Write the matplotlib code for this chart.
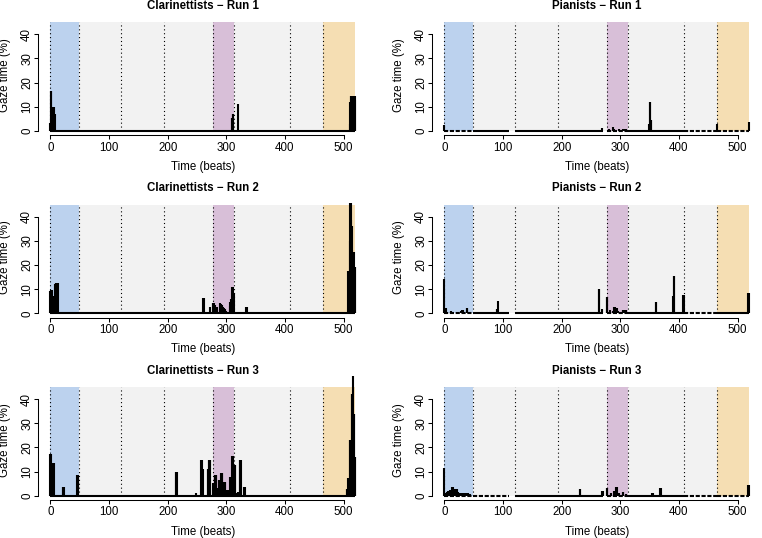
import matplotlib
matplotlib.use("Agg")
import matplotlib.pyplot as plt

plt.rcParams['font.family'] = ['Liberation Sans', 'DejaVu Sans']

# ---------------- data ----------------
section_bounds = [0, 49, 121, 193, 277, 313, 409, 465, 520]
shade_top = 45
highlight_sections = [(0, 49), (277, 313), (465, 520)]

titles = ["Clarinettists \u2212 Run 1", "Pianists \u2212 Run 1",
          "Clarinettists \u2212 Run 2", "Pianists \u2212 Run 2",
          "Clarinettists \u2212 Run 3", "Pianists \u2212 Run 3"]

x_ticks = [0, 100, 200, 300, 400, 500]
y_ticks = [0, 10, 20, 30, 40]
x_label = "Time (beats)"
y_label = "Gaze time (%)"

# Clarinettists run 1
cl1_beats = [0, 1, 2, 3, 4, 5, 6, 7, 8,
             309, 310, 311, 312, 320,
             510, 511, 512, 513, 514, 515, 516, 517, 518, 519, 520]
cl1_vals = [3.4, 16.5, 16.5, 4.5, 9.8, 9.8, 9.8, 7.0, 7.0,
            5.5, 5.5, 7.0, 7.0, 11.2,
            3.0, 12.0, 14.5, 14.5, 14.5, 14.5, 14.5, 14.5, 14.5, 14.5, 13.0]

# Clarinettists run 2
cl2_beats = [0, 1, 2, 3, 7, 8, 9, 10, 11, 12, 13,
             261, 262, 273, 277, 278, 279, 280, 284, 290, 291, 292, 293, 294,
             295, 296, 297, 298, 300, 306, 307, 308, 309, 310, 311, 312, 313,
             327, 334, 335,
             508, 509, 510, 511, 512, 513, 514, 515, 516, 517, 518, 519, 520]
cl2_vals = [9.3, 9.5, 9.8, 9.8, 7.2, 12.2, 12.4, 12.6, 12.6, 12.6, 12.6,
            6.2, 6.2, 2.6, 4.3, 4.3, 4.3, 3.5, 2.6, 4.3, 3.8, 3.4, 3.0, 2.5,
            2.2, 2.0, 1.8, 1.5, 1.0, 3.0, 4.5, 5.9, 5.9, 10.8, 10.8, 8.3, 8.3,
            0.4, 2.6, 2.6,
            17.6, 17.6, 30.0, 45.8, 45.8, 38.6, 36.0, 26.0, 25.5, 25.5, 19.0, 19.0, 19.0]

# Clarinettists run 3
cl3_beats = [0, 1, 2, 3, 4, 5, 6, 21, 22, 23, 31, 46, 47, 48,
             214, 215, 216, 248, 257, 258, 259, 260, 268, 269, 270, 271, 272, 273,
             278, 279, 280, 281, 282, 283, 284, 285, 286, 287, 288, 289, 290,
             291, 292, 293, 294, 295, 296, 297, 298, 299, 300, 301, 302, 303,
             305, 306, 307, 308, 309, 310, 311, 312, 313, 314, 315, 316, 317, 318,
             320, 323, 324, 325, 330, 331,
             505, 506, 507, 508, 509, 510, 511, 512, 513, 514, 515, 516, 517, 518, 519, 520]
cl3_vals = [17.2, 17.2, 7.9, 7.9, 13.7, 13.7, 13.7, 3.6, 3.6, 3.6, 0.4, 8.6, 8.6, 8.6,
            9.8, 9.8, 9.8, 1.0, 14.8, 14.8, 10.9, 10.9, 10.9, 10.9, 14.8, 14.8, 14.8, 14.8,
            5.1, 5.1, 5.1, 8.6, 8.6, 8.6, 3.0, 3.0, 3.0, 6.5, 6.5, 6.5, 6.5,
            9.2, 9.2, 9.2, 5.8, 5.8, 5.8, 5.8, 5.8, 2.3, 2.3, 2.3, 2.3, 2.3,
            1.4, 1.4, 7.9, 7.9, 7.9, 16.4, 16.4, 16.4, 12.7, 12.7, 12.7, 1.0, 1.0, 1.0,
            1.6, 14.8, 14.8, 14.8, 3.7, 3.7,
            2.8, 2.8, 2.8, 7.2, 7.2, 23.0, 23.0, 23.0, 23.0, 42.0, 42.0, 49.5, 34.0, 34.0, 16.0, 16.0]

# Pianists run 1
pi1_beats = [0, 269, 280, 287, 290, 298, 304, 307, 310,
             349, 350, 351, 352, 353, 465, 519]
pi1_vals = [2.5, 1.1, 0.8, 1.8, 1.0, 0.7, 1.0, 1.0, 1.0,
            3.0, 12.1, 12.1, 4.5, 4.5, 2.8, 3.7]

# Pianists run 2
pi2_beats = [0, 1, 2, 3, 12, 28, 30, 32, 38, 39, 89, 90, 92,
             263, 264, 269, 277, 278, 282, 287, 290, 291, 294, 296,
             304, 305, 306, 307, 308, 309, 360, 361, 390, 391, 392, 407, 408, 518, 519]
pi2_vals = [14.2, 2.2, 2.2, 2.2, 1.0, 1.0, 1.2, 1.2, 2.0, 2.0, 1.8, 1.8, 5.2,
            10.1, 10.1, 1.9, 6.8, 6.8, 1.5, 1.0, 2.5, 2.5, 2.2, 1.0,
            1.5, 1.5, 1.5, 1.5, 1.5, 1.5, 4.5, 4.5, 7.3, 15.3, 15.3, 7.6, 7.6, 8.2, 8.2]

# Pianists run 3
pi3_beats = [0, 2, 4, 7, 10, 13, 14, 18, 19, 21, 24, 27, 29, 32, 35, 38, 40, 43,
             231, 232, 269, 270, 277, 278, 284, 289, 293, 294, 298, 304, 305, 310,
             354, 355, 368, 369, 518, 519]
pi3_vals = [11.3, 1.0, 1.5, 2.0, 2.3, 3.7, 3.7, 2.6, 2.6, 2.6, 1.6, 1.2, 1.2, 1.2, 1.0, 1.0, 1.0, 0.7,
            2.6, 2.6, 2.0, 2.0, 3.2, 3.2, 1.2, 1.9, 3.7, 3.7, 1.0, 1.6, 1.6, 0.8,
            1.1, 1.1, 3.3, 3.3, 4.3, 4.3]

# ranges of beats with recorded data (dense / sparse sampling)
cl_dense = [(0, 520)]
cl_sparse = []
pi1_dense = [(49, 110), (121, 270), (313, 409)]
pi1_sparse = [(0, 49), (277, 313), (409, 465), (465, 520)]
pi2_dense = [(49, 110), (121, 270), (313, 409), (465, 520)]
pi2_sparse = [(0, 49), (277, 313), (409, 465)]
pi3_dense = [(121, 270), (313, 409)]
pi3_sparse = [(0, 49), (49, 110), (277, 313), (409, 465), (465, 520)]

panels = [
    (cl1_beats, cl1_vals, cl_dense, cl_sparse),
    (pi1_beats, pi1_vals, pi1_dense, pi1_sparse),
    (cl2_beats, cl2_vals, cl_dense, cl_sparse),
    (pi2_beats, pi2_vals, pi2_dense, pi2_sparse),
    (cl3_beats, cl3_vals, cl_dense, cl_sparse),
    (pi3_beats, pi3_vals, pi3_dense, pi3_sparse),
]

# ---------------- style / layout ----------------
W, H, DPI = 762, 538, 100
FS = 8.3
highlight_colors = ["#BCD2EE", "#D8BFD8", "#F5DEB3"]
gray = "#F2F2F2"

col_x = [(38.1, 367.6), (432.1, 761.6)]
row_zero = [131.0, 313.3, 495.7]
YPX = 2.417  # pixels per % unit
XLIM = (-20.8, 540.8)
YLIM = (-1.8, 46.8)

fig = plt.figure(figsize=(W / DPI, H / DPI), dpi=DPI)


def fx(px):
    return px / W


def fy(py):
    return 1 - py / H


for i, (beats, vals, dense, sparse) in enumerate(panels):
    r, c = divmod(i, 2)
    x0, x1 = col_x[c]
    z = row_zero[r]
    ytop = z - YLIM[1] * YPX
    ybot = z - YLIM[0] * YPX
    ax = fig.add_axes([fx(x0), fy(ybot), fx(x1 - x0), (ybot - ytop) / H])
    ax.set_xlim(*XLIM)
    ax.set_ylim(*YLIM)
    ax.patch.set_visible(False)

    # background sections
    ax.fill_between([section_bounds[0], section_bounds[-1]], 0, shade_top,
                    color=gray, lw=0, zorder=0)
    for (a, b), col in zip(highlight_sections, highlight_colors):
        ax.fill_between([a, b], 0, shade_top, color=col, lw=0, zorder=0.5)
    ax.vlines(section_bounds[:-1], 0, shade_top, colors="black",
              linestyles=(0, (1, 2.5)), lw=0.8, zorder=1)

    # baseline where data exist
    for a, b in dense:
        ax.hlines(0, a, b, colors="black", lw=1.5, zorder=2)
    for a, b in sparse:
        ax.hlines(0, a, b, colors="black", lw=1.5,
                  linestyles=(0, (2.0, 0.8)), zorder=2)

    # gaze spikes
    ax.vlines(beats, 0, vals, colors="black", lw=1.5, zorder=3, clip_on=False)

    # axes in R style
    for s in ["top", "right"]:
        ax.spines[s].set_visible(False)
    ax.spines["left"].set_bounds(0, 40)
    ax.spines["bottom"].set_bounds(0, 500)
    ax.spines["left"].set_linewidth(0.75)
    ax.spines["bottom"].set_linewidth(0.75)
    ax.set_xticks(x_ticks)
    ax.set_yticks(y_ticks)
    ax.tick_params(axis="both", direction="out", length=3.1, width=0.75,
                   labelsize=FS, colors="black")
    ax.tick_params(axis="x", pad=1.5)
    ax.tick_params(axis="y", pad=0.5)
    for lab in ax.get_yticklabels():
        lab.set_rotation(90)
        lab.set_va("center")

    xc = (x0 + x1) / 2
    fig.text(fx(xc), fy(z - 122), titles[i], ha="center", va="baseline",
             fontsize=FS, fontweight="bold")
    fig.text(fx(xc), fy(z + 39), x_label, ha="center", va="baseline", fontsize=FS)
    fig.text(fx(x0 - 33), fy(z - 56), y_label, ha="center", va="center",
             rotation=90, fontsize=FS)

fig.savefig("out.png", dpi=DPI)
